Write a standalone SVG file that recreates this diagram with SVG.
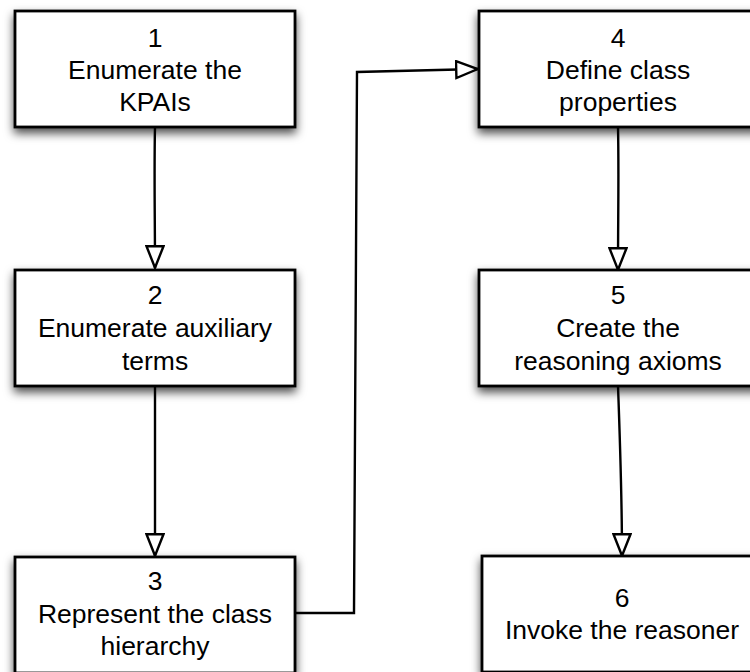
<svg xmlns="http://www.w3.org/2000/svg" width="750" height="672" viewBox="0 0 750 672">
  <style>
    .box { fill: #ffffff; stroke: #000000; stroke-width: 2.8; filter: url(#shadow); }
    .label { font-family: "Liberation Sans", Arial, Helvetica, sans-serif; font-size: 26.5px; fill: #000000; text-anchor: middle; }
    .edge { fill: none; stroke: #000000; stroke-width: 2.4; marker-end: url(#open-arrow); }
  </style>
  <defs>
    <filter id="shadow" x="-10%" y="-20%" width="120%" height="150%">
      <feDropShadow dx="0" dy="5" stdDeviation="5" flood-color="#000000" flood-opacity="0.7"/>
    </filter>
    <marker id="open-arrow" viewBox="0 0 24 20" refX="23" refY="10" markerWidth="24" markerHeight="20" markerUnits="userSpaceOnUse" orient="auto">
      <path d="M1.2,1.5 L22.8,10 L1.2,18.5 Z" fill="#ffffff" stroke="#000000" stroke-width="2.4" stroke-linejoin="miter"/>
    </marker>
  </defs>
  <rect width="750" height="672" fill="#ffffff"/>

  <g id="connectors">
    <path class="edge" d="M155,127 C154,170 155,220 155,268"/>
    <path class="edge" d="M155,386 C155,440 155,500 155,556"/>
    <path class="edge" d="M296,613 L354,613 L357,72 L478,69"/>
    <path class="edge" d="M618,127 C619,170 618,220 618,270"/>
    <path class="edge" d="M618,386 C620,440 622,500 622,556"/>
  </g>

  <g id="node1">
    <rect class="box" x="15" y="11" width="280" height="116"/>
    <text class="label" x="155" y="46.5">1</text>
    <text class="label" x="155" y="78.5">Enumerate the</text>
    <text class="label" x="155" y="111">KPAIs</text>
  </g>
  <g id="node2">
    <rect class="box" x="15" y="270" width="280" height="116"/>
    <text class="label" x="155" y="304">2</text>
    <text class="label" x="155" y="337">Enumerate auxiliary</text>
    <text class="label" x="155" y="370">terms</text>
  </g>
  <g id="node3">
    <rect class="box" x="15" y="557" width="280" height="116"/>
    <text class="label" x="155" y="590">3</text>
    <text class="label" x="155" y="623">Represent the class</text>
    <text class="label" x="155" y="655">hierarchy</text>
  </g>
  <g id="node4">
    <rect class="box" x="479" y="11" width="280" height="116"/>
    <text class="label" x="618" y="46.5">4</text>
    <text class="label" x="618" y="78.5">Define class</text>
    <text class="label" x="618" y="111">properties</text>
  </g>
  <g id="node5">
    <rect class="box" x="479" y="270" width="280" height="116"/>
    <text class="label" x="618" y="304">5</text>
    <text class="label" x="618" y="337">Create the</text>
    <text class="label" x="618" y="370">reasoning axioms</text>
  </g>
  <g id="node6">
    <rect class="box" x="482" y="556" width="280" height="116"/>
    <text class="label" x="622" y="606.5">6</text>
    <text class="label" x="622" y="638.5">Invoke the reasoner</text>
  </g>
</svg>
